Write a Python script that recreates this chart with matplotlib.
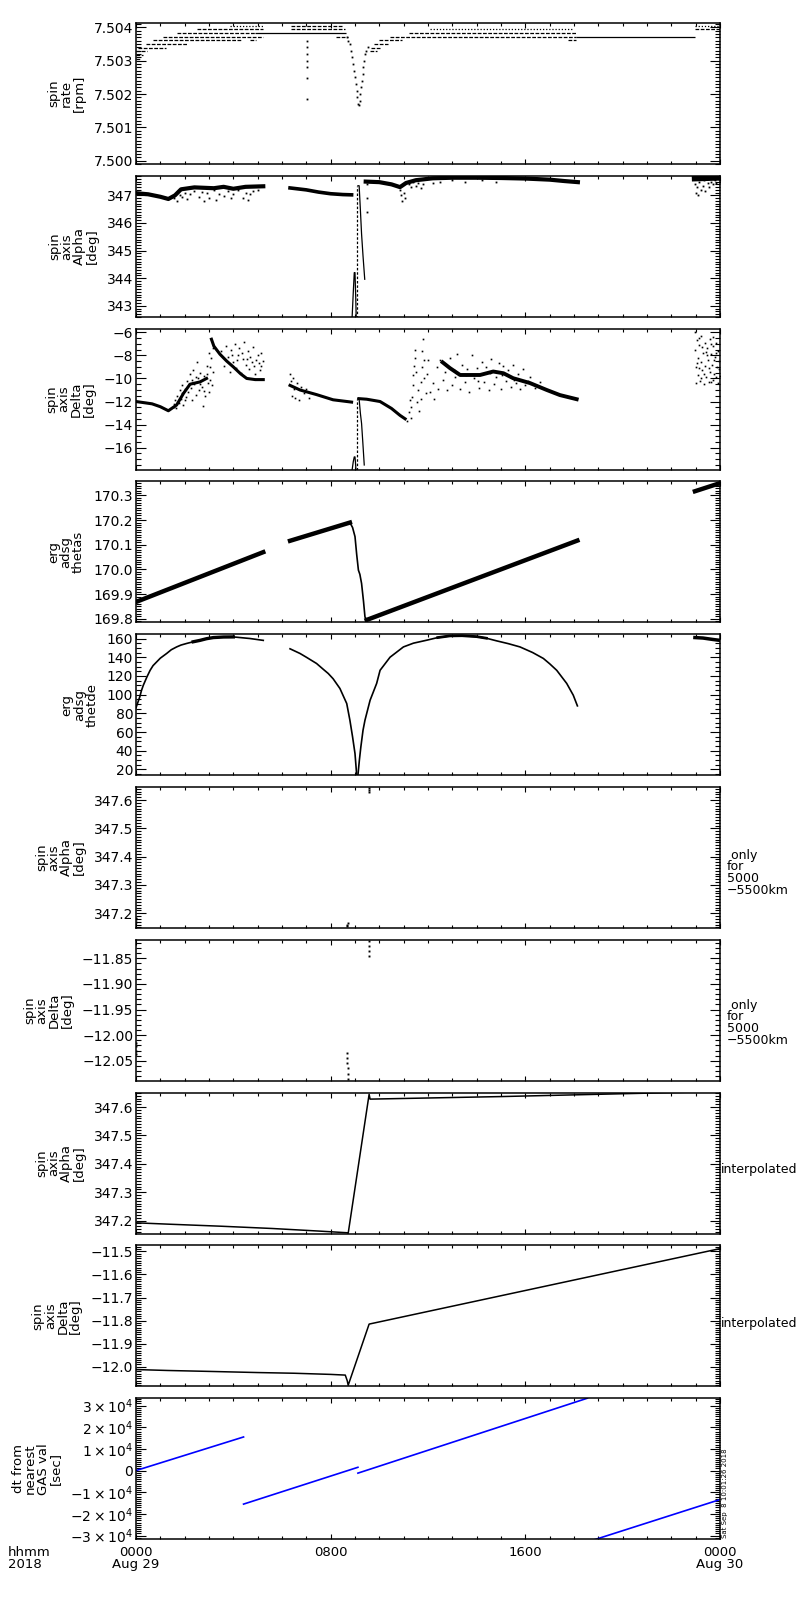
import matplotlib
matplotlib.use('Agg')
import matplotlib.pyplot as plt
from matplotlib.ticker import MultipleLocator, FuncFormatter, FixedLocator

plt.rcParams['font.family'] = ['DejaVu Sans']

# ---------------- DATA (time in hours from 2018-08-29 00:00) ----------------
# Panel 1: spin rate, quantized levels (level, t_start, t_end, style)
rate_lvl = [7.50328, 7.50317, 7.50306, 7.50339, 7.50350, 7.50361, 7.50361, 7.50372, 7.50372,
            7.50383, 7.50383, 7.50394, 7.50394, 7.50405, 7.50405,
            7.50328, 7.50339, 7.50350, 7.50361, 7.50372, 7.50372, 7.50383, 7.50394, 7.50361,
            7.50405, 7.50394]
rate_t0 = [0.0, 0.0, 0.0, 0.1, 0.4, 0.7, 4.7, 1.1, 8.2,
           1.7, 4.9, 2.5, 6.35, 3.85, 6.35,
           9.6, 9.65, 9.8, 10.0, 10.44, 18.1, 11.2, 12.1, 17.75,
           22.97, 22.97]
rate_t1 = [0.45, 0.3, 0.15, 1.25, 2.1, 4.3, 4.95, 5.23, 8.7,
           4.9, 8.65, 5.23, 8.6, 5.23, 8.45,
           9.9, 10.05, 10.35, 10.92, 18.1, 22.97, 18.1, 17.9, 18.1,
           24.0, 24.0]
rate_sty = ['d', 'd', 'd', 'd', 'd', 'd', 'd', 'd', 'd',
            'd', 's', 'd', 'd', 'o', 'd',
            'd', 'd', 'd', 'd', 'd', 's', 'd', 'o', 'd',
            'o', 'd']
rate_dip_t = [8.66, 8.72, 8.78, 8.83, 8.88, 8.93, 8.97, 9.0, 9.04, 9.07, 9.1, 9.13, 9.16,
              9.19, 9.22, 9.25, 9.28, 9.31, 9.34, 9.37, 9.41, 9.46, 9.52]
rate_dip_v = [7.50372, 7.5036, 7.5035, 7.5033, 7.5031, 7.5029, 7.5027, 7.5025, 7.5023, 7.5021,
              7.5019, 7.5017, 7.50168, 7.5018, 7.5020, 7.5022, 7.5024, 7.5026, 7.5028, 7.5030,
              7.5032, 7.5033, 7.5034]
rate_col_t = [7.03, 7.03, 7.03, 7.03, 7.03, 7.03, 7.03]
rate_col_v = [7.5036, 7.5034, 7.5032, 7.5030, 7.5028, 7.50248, 7.50186]

# Panel 2: spin axis Alpha
alpha_r1_t = [0.0, 0.5, 1.0, 1.33, 1.6, 1.85, 2.4, 3.2, 3.6, 4.0, 4.5, 5.23]
alpha_r1_v = [347.08, 347.04, 346.95, 346.87, 347.0, 347.22, 347.29, 347.26, 347.31, 347.24, 347.31, 347.33]
alpha_r2_t = [6.33, 7.0, 7.5, 8.0, 8.5, 8.86]
alpha_r2_v = [347.27, 347.2, 347.12, 347.06, 347.03, 347.02]
alpha_sp1_t = [8.88, 8.93, 8.97, 9.0, 9.03, 9.05]
alpha_sp1_v = [342.55, 343.5, 344.2, 344.2, 343.3, 342.55]
alpha_vt_t = [9.07, 9.07]
alpha_vt_v = [342.55, 347.35]
alpha_rp_t = [9.12, 9.17, 9.22, 9.27, 9.33, 9.4]
alpha_rp_v = [347.35, 347.35, 346.5, 345.6, 344.8, 343.96]
alpha_r3_t = [9.44, 10.0, 10.5, 10.85, 11.1, 11.5, 12.2, 13.0, 14.0, 15.0, 16.0, 17.0, 17.6, 18.16]
alpha_r3_v = [347.5, 347.48, 347.4, 347.3, 347.45, 347.55, 347.62, 347.64, 347.64, 347.63, 347.61, 347.57, 347.52, 347.48]
alpha_r4_t = [22.97, 24.0]
alpha_r4_v = [347.62, 347.65]
alpha_pts = [(1.55, 346.9), (1.7, 346.8), (1.8, 347.0), (1.9, 346.95), (2.0, 347.1), (2.2, 347.05),
             (2.4, 347.15), (2.6, 346.95), (2.8, 346.78), (2.9, 347.1), (3.0, 346.9), (3.2, 347.2),
             (3.4, 347.05), (3.6, 346.98), (3.8, 347.15), (4.0, 347.05), (4.2, 347.2), (4.4, 346.9),
             (4.5, 347.1), (4.6, 346.82), (4.8, 347.15), (5.0, 347.2), (1.45, 346.95),
             (2.1, 346.88), (2.7, 347.12), (3.3, 346.85), (3.9, 346.92), (4.7, 347.05),
             (9.5, 347.4), (9.5, 346.9), (9.5, 346.4),
             (10.85, 347.2), (10.9, 347.0), (10.95, 346.8), (11.0, 347.1), (11.05, 346.9),
             (11.2, 347.4), (11.3, 347.3), (11.4, 347.5), (11.5, 347.35), (11.6, 347.45),
             (11.7, 347.25), (11.8, 347.4), (12.2, 347.45), (12.5, 347.5), (13.0, 347.55),
             (13.5, 347.5), (14.2, 347.55), (14.8, 347.5),
             (22.97, 347.4), (23.0, 347.1), (23.02, 347.6), (23.05, 347.3), (23.1, 347.0),
             (23.15, 347.5), (23.2, 347.2), (23.25, 347.65), (23.3, 347.35), (23.35, 347.55),
             (23.4, 347.15), (23.45, 347.6), (23.5, 347.45), (23.55, 347.3), (23.6, 347.65),
             (23.65, 347.5), (23.7, 347.4), (23.75, 347.6), (23.8, 347.55), (23.85, 347.45),
             (23.9, 347.65), (23.95, 347.6), (23.99, 347.5)]

# Panel 3: spin axis Delta
delta_r1_t = [0.0, 0.66, 1.0, 1.33, 1.67, 1.95, 2.22, 2.63, 2.9]
delta_r1_v = [-12.0, -12.2, -12.45, -12.8, -12.3, -11.3, -10.5, -10.3, -10.0]
delta_r2_t = [3.1, 3.2, 3.45, 3.73, 4.0, 4.3, 4.55, 4.9, 5.23]
delta_r2_v = [-6.6, -7.2, -7.9, -8.5, -9.0, -9.6, -10.0, -10.1, -10.1]
delta_r3_t = [6.33, 6.74, 7.42, 8.1, 8.86]
delta_r3_v = [-10.6, -11.0, -11.4, -11.85, -12.05]
delta_sp1_t = [8.88, 8.93, 8.97, 9.0, 9.02, 9.04]
delta_sp1_v = [-17.95, -17.2, -16.8, -16.8, -17.3, -17.95]
delta_vt_t = [9.07, 9.07]
delta_vt_v = [-17.95, -11.75]
delta_rp_t = [9.12, 9.17, 9.22, 9.27, 9.32, 9.38]
delta_rp_v = [-11.75, -11.8, -13.0, -13.9, -15.5, -17.5]
delta_r4_t = [9.16, 9.48, 10.03, 10.5, 10.85, 11.06]
delta_r4_v = [-11.75, -11.8, -12.0, -12.6, -13.2, -13.5]
delta_r5_t = [12.6, 12.9, 13.32, 14.14, 14.68, 15.1, 15.5, 16.19, 16.88, 17.42, 18.11]
delta_r5_v = [-8.6, -9.1, -9.7, -9.7, -9.4, -9.55, -9.98, -10.4, -11.0, -11.44, -11.8]
delta_pts = [(1.55, -12.5), (1.6, -11.9), (1.65, -12.6), (1.7, -11.5), (1.75, -12.1), (1.8, -11.0),
             (1.85, -11.8), (1.9, -10.6), (1.95, -12.3), (2.0, -10.9), (2.05, -11.6), (2.1, -10.2),
             (2.15, -11.2), (2.2, -9.6), (2.25, -10.8), (2.3, -11.9), (2.35, -9.3), (2.4, -10.5),
             (2.45, -11.4), (2.5, -8.6), (2.55, -10.0), (2.6, -11.0), (2.65, -9.5), (2.7, -10.7),
             (2.75, -12.4), (2.8, -9.8), (2.85, -11.5), (2.9, -8.9), (2.95, -10.4), (3.0, -7.8),
             (3.02, -11.2), (3.05, -9.0), (3.08, -6.6), (3.1, -8.2), (3.12, -10.6), (3.15, -7.4),
             (3.18, -9.4), (1.58, -12.2), (1.72, -12.0), (1.88, -11.3), (2.02, -11.9),
             (2.18, -10.5), (2.32, -10.1), (2.48, -9.9), (2.62, -10.5), (2.78, -11.1),
             (2.92, -9.6), (3.04, -10.1),
             (3.5, -7.6), (3.6, -8.9), (3.7, -7.2), (3.8, -8.1), (3.85, -9.4), (3.9, -7.5),
             (4.0, -8.6), (4.05, -7.0), (4.1, -9.1), (4.2, -8.0), (4.25, -7.4), (4.3, -9.5),
             (4.4, -8.3), (4.45, -6.8), (4.5, -8.8), (4.6, -7.6), (4.65, -9.2), (4.7, -8.1),
             (4.8, -7.3), (4.85, -8.9), (4.9, -9.6), (5.0, -8.0), (5.05, -8.7), (5.1, -9.3),
             (5.15, -7.8), (5.2, -8.5), (3.95, -8.0), (4.15, -8.4), (4.35, -7.8), (4.55, -8.3),
             (4.75, -8.6), (4.95, -8.4), (5.12, -8.9),
             (6.33, -9.6), (6.35, -10.2), (6.4, -11.5), (6.45, -10.0), (6.5, -10.9), (6.55, -11.7),
             (6.6, -10.4), (6.7, -11.9), (6.8, -10.7), (6.9, -11.3), (7.0, -10.9), (7.1, -11.7),
             (11.15, -13.7), (11.2, -12.9), (11.25, -11.9), (11.3, -13.4), (11.32, -12.5),
             (11.35, -11.6), (11.38, -10.6), (11.4, -9.7), (11.42, -8.9), (11.45, -8.2),
             (11.48, -7.5), (11.5, -9.4), (11.55, -12.0), (11.6, -11.0), (11.65, -12.8),
             (11.7, -11.8), (11.72, -10.3), (11.75, -9.0), (11.77, -7.6), (11.79, -6.6),
             (11.82, -8.4), (11.85, -10.0), (11.9, -11.3), (11.95, -9.6), (12.0, -8.4),
             (12.1, -11.2), (12.2, -10.4), (12.25, -11.8), (12.35, -9.0), (12.4, -10.9),
             (12.5, -8.4), (12.6, -10.1), (12.7, -9.4), (12.8, -11.0), (12.9, -8.2), (13.0, -10.6),
             (13.1, -9.9), (13.2, -7.9), (13.3, -10.9), (13.4, -8.8), (13.5, -10.3), (13.6, -9.2),
             (13.7, -11.2), (13.8, -8.0), (13.9, -10.0), (14.0, -9.1), (14.1, -10.8), (14.2, -8.6),
             (14.3, -10.3), (14.4, -9.0), (14.5, -11.0), (14.6, -8.3), (14.7, -10.5), (14.8, -9.9),
             (14.9, -8.7), (15.0, -10.9), (15.1, -8.9), (15.2, -10.2), (15.3, -9.3), (15.4, -10.7),
             (15.5, -8.8), (15.6, -10.4), (15.7, -9.6), (15.8, -10.9), (15.9, -9.2), (16.0, -10.6),
             (16.2, -9.9), (16.4, -10.8), (16.6, -10.3), (13.05, -9.3), (13.55, -9.7),
             (14.05, -10.2), (14.55, -9.5), (15.05, -9.7), (15.55, -10.1), (16.1, -10.2),
             (22.97, -6.0), (22.98, -7.5), (23.0, -9.0), (23.02, -10.4), (23.05, -6.7),
             (23.08, -8.2), (23.1, -9.7), (23.13, -7.1), (23.17, -10.2), (23.2, -8.6),
             (23.23, -6.3), (23.27, -9.3), (23.3, -7.8), (23.33, -10.5), (23.37, -8.9),
             (23.4, -6.9), (23.43, -9.9), (23.47, -7.4), (23.5, -8.4), (23.53, -10.3),
             (23.57, -6.6), (23.6, -9.4), (23.63, -7.9), (23.67, -8.8), (23.7, -10.1),
             (23.73, -7.2), (23.77, -9.6), (23.8, -8.1), (23.83, -6.9), (23.87, -9.0),
             (23.9, -10.4), (23.93, -7.6), (23.97, -8.5), (23.99, -9.8), (23.04, -8.7),
             (23.15, -9.1), (23.25, -7.3), (23.35, -9.6), (23.45, -8.0), (23.55, -9.1),
             (23.65, -7.0), (23.75, -8.4), (23.85, -7.8), (23.95, -9.2), (23.22, -10.0),
             (23.62, -10.3), (23.82, -9.9), (23.12, -6.5), (23.42, -7.7), (23.72, -6.4)]

# Panel 4: erg adsg thetas
thetas_s1_t = [0.0, 5.23]
thetas_s1_v = [169.868, 170.07]
thetas_s2_t = [6.33, 8.79]
thetas_s2_v = [170.116, 170.19]
thetas_dr_t = [8.79, 8.9, 9.0, 9.07, 9.14, 9.2, 9.27, 9.35, 9.41, 9.48]
thetas_dr_v = [170.19, 170.17, 170.133, 170.06, 169.997, 169.98, 169.943, 169.87, 169.807, 169.795]
thetas_s3_t = [9.48, 18.14]
thetas_s3_v = [169.795, 170.117]
thetas_s4_t = [22.97, 24.0]
thetas_s4_v = [170.317, 170.35]

# Panel 5: erg adsg thetde
thetde_s1_t = [0.0, 0.04, 0.08, 0.16, 0.22, 0.3, 0.45, 0.58, 0.7, 0.85, 1.0, 1.26, 1.45, 1.67,
               1.85, 2.08, 2.35, 2.63, 2.9, 3.18, 3.6, 4.0, 4.68, 5.23]
thetde_s1_v = [86, 89, 92, 98, 104, 110, 119, 126, 131, 135, 139, 144, 148, 151,
               153, 154.7, 156.5, 158, 159.8, 161, 161.6, 161.7, 160, 158]
thetde_s2_t = [6.33, 6.74, 7.0, 7.42, 7.7, 7.9, 8.1, 8.38, 8.66, 8.79, 8.9, 9.0, 9.07]
thetde_s2_v = [149, 144, 140, 133.3, 127, 122.6, 117, 106.6, 90.5, 72.7, 54.9, 37, 13.9]
thetde_s3_t = [9.12, 9.18, 9.24, 9.33, 9.41, 9.62, 9.89, 10.03, 10.44, 10.99, 11.4, 11.95, 12.4,
               12.9, 13.4, 14.0, 14.4, 14.82, 15.3, 15.78, 16.3, 16.74, 17.0, 17.29, 17.7,
               17.97, 18.14]
thetde_s3_v = [13.9, 30, 44, 62, 72.7, 94, 112, 126, 140, 151, 155, 158.2, 161,
               162.8, 163, 162, 160.3, 157.5, 154.5, 151, 145, 138.7, 133, 126, 112,
               99.4, 88]
thetde_s4_t = [22.97, 23.3, 23.7, 24.0]
thetde_s4_v = [161, 160.5, 159, 158]

# Panel 6 / 7: only for 5000-5500 km
alpha55_t = [0.0, 0.01, 0.02, 8.68, 8.69, 8.70, 9.58, 9.585, 9.59]
alpha55_v = [347.17, 347.18, 347.185, 347.155, 347.16, 347.165, 347.628, 347.636, 347.644]
delta55_t = [0.02, 0.02, 0.02, 0.02, 8.68, 8.69, 8.69, 8.70, 8.70, 8.71, 9.58, 9.58, 9.585, 9.59]
delta55_v = [-12.015, -12.022, -12.03, -12.037, -12.035, -12.045, -12.055, -12.065, -12.075,
             -12.085, -11.817, -11.826, -11.835, -11.845]

# Panel 8 / 9: interpolated
ialpha_t = [0.0, 1.4, 3.5, 5.6, 7.5, 8.68, 8.72, 9.58, 9.62, 12.0, 15.0, 18.0, 22.0, 24.0]
ialpha_v = [347.192, 347.187, 347.18, 347.172, 347.163, 347.157, 347.155, 347.645, 347.628,
            347.632, 347.637, 347.643, 347.651, 347.655]
idelta_t = [0.0, 1.3, 3.0, 5.0, 6.5, 8.0, 8.6, 8.68, 8.72, 9.58, 24.0]
idelta_v = [-12.012, -12.016, -12.02, -12.025, -12.028, -12.033, -12.036, -12.06, -12.08,
            -11.815, -11.488]

# Panel 10: dt from nearest GAS value (segment end points)
dt_t0 = [0.0, 4.42, 9.12, 18.6]
dt_t1 = [4.42, 9.12, 18.55, 24.0]
dt_v0 = [0.0, -15500, -1200, -32800]
dt_v1 = [15500, 1500, 33400, -13400]

ylabels = ['spin\nrate\n[rpm]', 'spin\naxis\nAlpha\n[deg]', 'spin\naxis\nDelta\n[deg]',
           'erg\nadsg\nthetas', 'erg\nadsg\nthetde', 'spin\naxis\nAlpha\n[deg]',
           'spin\naxis\nDelta\n[deg]', 'spin\naxis\nAlpha\n[deg]', 'spin\naxis\nDelta\n[deg]',
           'dt from\nnearest\nGAS val\n[sec]']
ylims = [(7.4999, 7.50413), (342.6, 347.71), (-17.9, -5.68), (169.785, 170.357), (13.9, 164.6),
         (347.148, 347.646), (-12.089, -11.814), (347.154, 347.651), (-12.085, -11.474),
         (-31700, 33400)]
ymajor = [0.001, 1, 2, 0.1, 20, 0.1, 0.05, 0.1, 0.1, 10000]
yminor = [0.0001, 0.1, 0.5, 0.01, 5, 0.01, 0.01, 0.01, 0.01, 1000]
yfmt = ['%.3f', '%d', '%d', '%.1f', '%d', '%.1f', '%.2f', '%.1f', '%.1f', 'sci']
xtick_hours = [0, 8, 16, 24]
xtick_text = ['0000\nAug 29', '0800', '1600', '0000\nAug 30']

# ---------------- FIGURE ----------------
W, H = 800, 1600
fig = plt.figure(figsize=(8, 16), dpi=100)
LEFT, RIGHT = 136, 720
TOP0, STEP, PH = 23, 152.8, 141


def fmt_factory(f):
    if f == 'sci':
        def g(v, pos):
            n = int(round(v / 1e4))
            if n == 0:
                return '0'
            return r'$%s\times10^{4}$' % (('\u2212%d' % -n) if n < 0 else str(n))
        return FuncFormatter(g)
    return FuncFormatter(lambda v, pos: (f % v).replace('-', '\u2212'))


axes = []
for i in range(10):
    top = TOP0 + i * STEP
    ax = fig.add_axes([LEFT / W, 1 - (top + PH) / H, (RIGHT - LEFT) / W, PH / H])
    ax.set_xlim(0, 24)
    ax.set_ylim(*ylims[i])
    ax.xaxis.set_major_locator(FixedLocator(xtick_hours))
    ax.xaxis.set_minor_locator(MultipleLocator(1))
    ax.yaxis.set_major_locator(MultipleLocator(ymajor[i]))
    ax.yaxis.set_minor_locator(MultipleLocator(yminor[i]))
    ax.yaxis.set_major_formatter(fmt_factory(yfmt[i]))
    ax.tick_params(which='both', direction='in', top=True, right=True, labelbottom=False,
                   color='k')
    ax.tick_params(axis='y', which='major', length=7.2, width=0.8, labelsize=10, pad=2)
    ax.tick_params(axis='y', which='minor', length=3.6, width=0.8)
    ax.tick_params(axis='x', which='major', length=3.8, width=0.8)
    ax.tick_params(axis='x', which='minor', length=2.2, width=0.8)
    for s in ax.spines.values():
        s.set_linewidth(1.1)
    ax.set_ylabel(ylabels[i], fontsize=9.5, linespacing=0.95, labelpad=6)
    axes.append(ax)

K = 'black'
# Panel 1
ax = axes[0]
styles = {'d': (0, (3, 1.2)), 'o': (0, (1, 1.5)), 's': 'solid'}
for lv, a, b, st in zip(rate_lvl, rate_t0, rate_t1, rate_sty):
    ax.hlines(lv, a, b, colors=K, linestyles=[styles[st]], lw=0.9)
ax.plot(rate_dip_t, rate_dip_v, ls='none', marker='s', ms=1.3, mew=0, color=K)
ax.plot(rate_col_t, rate_col_v, ls='none', marker='s', ms=1.3, mew=0, color=K)

# Panel 2
ax = axes[1]
ax.plot(alpha_r1_t, alpha_r1_v, color=K, lw=3.0)
ax.plot(alpha_r2_t, alpha_r2_v, color=K, lw=2.6)
ax.plot(alpha_sp1_t, alpha_sp1_v, color=K, lw=0.9)
ax.plot(alpha_vt_t, alpha_vt_v, color=K, lw=0.9, ls=(0, (2, 1.5)))
ax.plot(alpha_rp_t, alpha_rp_v, color=K, lw=0.9)
ax.plot(alpha_r3_t, alpha_r3_v, color=K, lw=3.0)
ax.plot(alpha_r4_t, alpha_r4_v, color=K, lw=4.5)
ax.plot([p[0] for p in alpha_pts], [p[1] for p in alpha_pts], ls='none', marker='s',
        ms=1.3, mew=0, color=K)

# Panel 3
ax = axes[2]
ax.plot(delta_r1_t, delta_r1_v, color=K, lw=2.2)
ax.plot(delta_r2_t, delta_r2_v, color=K, lw=2.2)
ax.plot(delta_r3_t, delta_r3_v, color=K, lw=2.2)
ax.plot(delta_sp1_t, delta_sp1_v, color=K, lw=0.9)
ax.plot(delta_vt_t, delta_vt_v, color=K, lw=0.9, ls=(0, (2, 1.5)))
ax.plot(delta_rp_t, delta_rp_v, color=K, lw=0.9)
ax.plot(delta_r4_t, delta_r4_v, color=K, lw=2.2)
ax.plot(delta_r5_t, delta_r5_v, color=K, lw=2.8)
ax.plot([p[0] for p in delta_pts], [p[1] for p in delta_pts], ls='none', marker='s',
        ms=1.2, mew=0, color=K)

# Panel 4
ax = axes[3]
ax.plot(thetas_s1_t, thetas_s1_v, color=K, lw=3.2)
ax.plot(thetas_s2_t, thetas_s2_v, color=K, lw=3.2)
ax.plot(thetas_dr_t, thetas_dr_v, color=K, lw=1.2)
ax.plot(thetas_s3_t, thetas_s3_v, color=K, lw=3.2)
ax.plot(thetas_s4_t, thetas_s4_v, color=K, lw=3.2)

# Panel 5
ax = axes[4]
ax.plot(thetde_s1_t, thetde_s1_v, color=K, lw=1.2)
ax.plot(thetde_s1_t[16:22], thetde_s1_v[16:22], color=K, lw=2.4)
ax.plot(thetde_s2_t, thetde_s2_v, color=K, lw=1.2)
ax.plot(thetde_s3_t, thetde_s3_v, color=K, lw=1.2)
ax.plot(thetde_s3_t[12:17], thetde_s3_v[12:17], color=K, lw=2.0)
ax.plot(thetde_s4_t, thetde_s4_v, color=K, lw=2.5)

# Panel 6 / 7
axes[5].plot(alpha55_t, alpha55_v, ls='none', marker='s', ms=1.4, mew=0, color=K)
axes[6].plot(delta55_t, delta55_v, ls='none', marker='s', ms=1.4, mew=0, color=K)

# Panel 8 / 9
axes[7].plot(ialpha_t, ialpha_v, color=K, lw=1.1)
axes[8].plot(idelta_t, idelta_v, color=K, lw=1.1)

# Panel 10
ax = axes[9]
for a, b, va, vb in zip(dt_t0, dt_t1, dt_v0, dt_v1):
    ax.plot([a, b], [va, vb], color='#0000ff', lw=1.2)

# right side annotations
def ftext(x, y, s, **kw):
    fig.text(x / W, 1 - y / H, s, **kw)

ftext(727, 873, ' only\nfor\n5000\n\u22125500km', fontsize=9, ha='left', va='center',
      linespacing=0.9)
ftext(727, 1023, ' only\nfor\n5000\n\u22125500km', fontsize=9, ha='left', va='center',
      linespacing=0.9)
ftext(721, 1170, 'interpolated', fontsize=9, ha='left', va='center')
ftext(721, 1323, 'interpolated', fontsize=9, ha='left', va='center')
ftext(724.5, 1538, 'Sat Sep  8 10:01:26 2018', fontsize=5, rotation=90, ha='center',
      va='bottom')

# bottom time labels
for h, s in zip(xtick_hours, xtick_text):
    x = LEFT + (RIGHT - LEFT) * h / 24.0
    ftext(x, 1546, s, fontsize=9.5, ha='center', va='top', linespacing=0.9)
ftext(8, 1546, 'hhmm\n2018', fontsize=9.5, ha='left', va='top', linespacing=0.9)

fig.savefig('out.png', dpi=100)
